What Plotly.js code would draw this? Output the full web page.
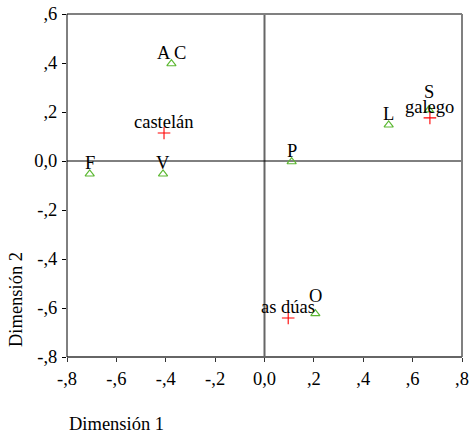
<!DOCTYPE html>
<html>
<head>
<meta charset="utf-8">
<script src="https://cdn.plot.ly/plotly-3.0.1.min.js"></script>
<style>html,body{margin:0;padding:0;background:#fff;}#chart{width:470px;height:434px;}</style>
</head>
<body>
<div id="chart"></div>
<script>
// Category points (green triangles)
var catLabels = ["A C", "F", "V", "P", "L", "S", "O"];
var catX = [-0.377, -0.708, -0.411, 0.110, 0.503, 0.666, 0.206];
var catY = [0.397, -0.053, -0.053, -0.003, 0.147, 0.209, -0.623];
// Language points (red crosses)
var langLabels = ["castelán", "galego", "as dúas"];
var langX = [-0.407, 0.670, 0.096];
var langY = [0.114, 0.176, -0.641];
// Tick labels
var xTickVals = [-0.8, -0.6, -0.4, -0.2, 0, 0.2, 0.4, 0.6, 0.8];
var xTickText = ["-,8", "-,6", "-,4", "-,2", "0,0", ",2", ",4", ",6", ",8"];
var yTickVals = [-0.8, -0.6, -0.4, -0.2, 0, 0.2, 0.4, 0.6];
var yTickText = ["-,8", "-,6", "-,4", "-,2", "0,0", ",2", ",4", ",6"];
var xTitle = "Dimensión 1";
var yTitle = "Dimensión 2";

var FONT = "Liberation Serif, Times New Roman, serif";
var FS = 18.5;
var LABEL_LIFT = 11;            // px above the marker
var EXTRA_LIFT = {S: 7, O: 7};  // labels nudged up to clear neighbouring labels

var traces = [
  {x: catX, y: catY, type: "scatter", mode: "markers",
   marker: {symbol: "triangle-up-open", size: 8, color: "#5cb832", line: {width: 1.2, color: "#5cb832"}},
   cliponaxis: false, hoverinfo: "none"},
  {x: langX, y: langY, type: "scatter", mode: "markers",
   marker: {symbol: "cross-thin-open", size: 9, color: "#ff0000", line: {width: 1.1, color: "#ff0000"}},
   cliponaxis: false, hoverinfo: "none"}
];

function labelAnn(t, x, y) {
  return {text: t, x: x, y: y, xref: "x", yref: "y", xanchor: "center", yanchor: "middle",
    yshift: LABEL_LIFT + (EXTRA_LIFT[t] || 0), showarrow: false,
    font: {family: FONT, size: FS, color: "#000"}};
}
var anns = [];
catLabels.forEach(function (t, i) { anns.push(labelAnn(t, catX[i], catY[i])); });
langLabels.forEach(function (t, i) { anns.push(labelAnn(t, langX[i], langY[i])); });
anns.push({text: xTitle, xref: "paper", yref: "paper", x: 0, y: 0, xanchor: "left", yanchor: "middle",
  yshift: -67, showarrow: false, font: {family: FONT, size: FS, color: "#000"}});
anns.push({text: yTitle, xref: "paper", yref: "paper", x: 0, y: 0, xanchor: "center", yanchor: "middle",
  xshift: -51, yshift: 57, textangle: -90, showarrow: false, font: {family: FONT, size: FS, color: "#000"}});

var layout = {
  width: 470, height: 434,
  margin: {l: 67, r: 8, t: 14, b: 77},
  paper_bgcolor: "#fff", plot_bgcolor: "#fff",
  showlegend: false,
  font: {family: FONT, size: FS, color: "#000"},
  xaxis: {range: [-0.8, 0.8], tickvals: xTickVals, ticktext: xTickText,
    showgrid: false, zeroline: false, showline: false,
    ticks: "outside", ticklen: 4, tickcolor: "#333", ticklabelstandoff: 1,
    tickfont: {family: FONT, size: FS, color: "#000"}},
  yaxis: {range: [-0.8, 0.6], tickvals: yTickVals, ticktext: yTickText,
    showgrid: false, zeroline: false, showline: false,
    ticks: "outside", ticklen: 4, tickcolor: "#000", ticklabelstandoff: 1,
    tickfont: {family: FONT, size: FS, color: "#000"}},
  shapes: [
    {type: "line", xref: "paper", yref: "paper", x0: 0, x1: 1, y0: 1, y1: 1, line: {color: "#808080", width: 2}},
    {type: "line", xref: "paper", yref: "paper", x0: 1, x1: 1, y0: 0, y1: 1, line: {color: "#808080", width: 2}},
    {type: "line", xref: "paper", yref: "paper", x0: 0, x1: 1, y0: 0, y1: 0, line: {color: "#666", width: 2}},
    {type: "line", xref: "paper", yref: "paper", x0: 0, x1: 0, y0: 0, y1: 1, line: {color: "#000", width: 1}},
    {type: "line", xref: "x", yref: "paper", x0: 0, x1: 0, y0: 0, y1: 1, line: {color: "#666", width: 2}, layer: "below"},
    {type: "line", xref: "paper", yref: "y", x0: 0, x1: 1, y0: 0, y1: 0, line: {color: "#000", width: 1}, layer: "below"}
  ],
  annotations: anns
};
Plotly.newPlot("chart", traces, layout, {displayModeBar: false, staticPlot: true});
</script>
</body>
</html>
